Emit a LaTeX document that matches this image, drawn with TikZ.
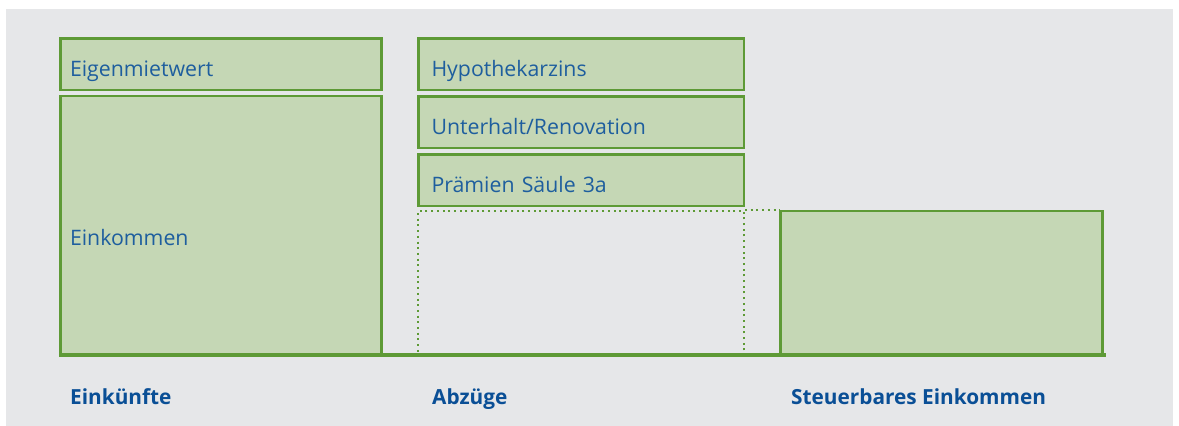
\documentclass[tikz,border=0pt]{standalone}
\usepackage{fontspec}
\setmainfont{Open Sans}
\definecolor{bggray}{HTML}{E6E7E9}
\definecolor{bargreen}{HTML}{5E9A36}
\definecolor{barfill}{HTML}{C5D7B5}
\definecolor{textblue}{HTML}{1E5E9E}
\definecolor{headblue}{HTML}{0A4F96}
\begin{document}
\begin{tikzpicture}[x=1pt,y=-1pt,
  bar/.style={draw=bargreen, fill=barfill, line width=2.5pt, minimum width=#1,
    text width=#1-19pt, inner xsep=9.5pt, align=left, text=textblue,
    text height=24pt, text depth=0pt, font=\fontsize{21.3}{25}\selectfont},
  wide pad/.style={text width=#1-26pt, inner xsep=13pt},
  gap/.style={draw=bargreen, line width=2pt, dash pattern=on 2pt off 3.7pt},
  head/.style={anchor=base west, inner sep=0pt, text=headblue,
    font=\fontsize{20.8}{25}\selectfont\bfseries}]
\useasboundingbox (0,0) rectangle (1179,426);
\fill[bggray] (6,9) rectangle (1173,426);

% Einkuenfte
\node[bar=321pt, minimum height=51.5pt] (eigen) at (221,64.25) {Eigenmietwert};
\node[bar=321pt, minimum height=258pt, text height=40pt] (einkommen) at (221,225) {Einkommen};

% Abzuege
\node[bar=325.5pt, wide pad=325.5pt, minimum height=51.5pt] (hypo) at (581.25,64.25) {Hypothekarzins};
\node[bar=325.5pt, wide pad=325.5pt, minimum height=51.5pt] (unterhalt) at (581.25,122.25) {Unterhalt/Renovation};
\node[bar=325.5pt, wide pad=325.5pt, minimum height=51.5pt] (praemien) at (581.25,180.25) {Prämien Säule 3a};
\node[gap, minimum width=326pt, minimum height=144pt] (rest) at (581,283) {};

% Steuerbares Einkommen
\node[bar=322pt, minimum height=143pt] (steuer) at (941.5,282.5) {};
\draw[gap] (rest.north east) -- (rest.north east -| steuer.west);

\draw[bargreen, line width=4pt] (einkommen.south west) -- ([xshift=2pt]steuer.south east);

\node[head] (einkuenfte) at (70,404) {Einkünfte};
\node[head] (abzuege) at (432,404) {Abzüge};
\node[head] (steuerbar) at (791,404) {Steuerbares Einkommen};
\end{tikzpicture}
\end{document}
